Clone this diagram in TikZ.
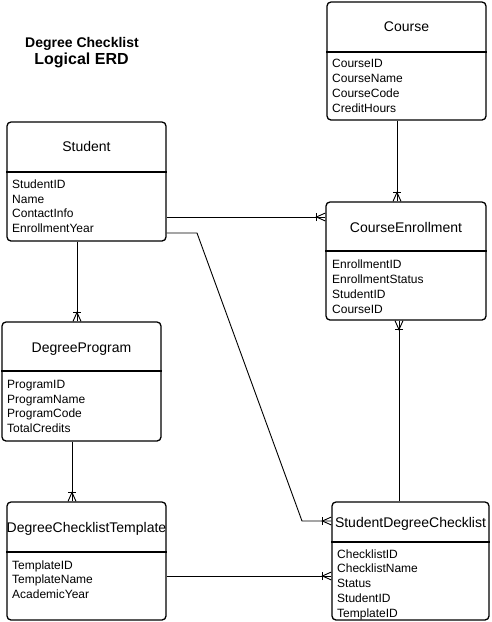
\documentclass[tikz,border=0pt]{standalone}
\usepackage{fontspec}
\setmainfont{Liberation Sans}
\usetikzlibrary{calc}

\tikzset{
  entity/.style={draw, line width=1.3pt, rounded corners=4pt, inner sep=0pt},
  divider/.style={line width=1.3pt},
  header/.style={anchor=base, inner sep=0pt, font=\fontsize{14}{16}\selectfont},
  fields/.style={anchor=base west, inner sep=0pt, align=left, font=\fontsize{12}{14.7}\selectfont},
  rel/.style={line width=0.9pt},
  crowfoot/.pic={
    \draw[rel] (0,-4) -- (9,0) -- (0,4);
    \draw[rel] (9,-4) -- (9,4);
  }
}

\begin{document}
\begin{tikzpicture}[x=1pt,y=-1pt]
  \useasboundingbox (0,0) rectangle (492,622);

  \node[anchor=base, inner sep=0pt, font=\bfseries\fontsize{14}{16}\selectfont] (heading) at (82,47) {Degree Checklist};
  \node[anchor=base, inner sep=0pt, font=\bfseries\fontsize{16}{18}\selectfont] (subheading) at (81.5,64.5) {Logical ERD};

  % entities (fields placed by the baseline of their last line)
  \node[entity, minimum width=159pt, minimum height=118pt] (course) at (406.5,61) {};
  \draw[divider] (course.west |- 0,52) -- (course.east |- 0,52);
  \node[header] (coursetitle) at (406.5,31) {Course};
  \node[fields] (coursefields) at (332,112) {CourseID\\CourseName\\CourseCode\\CreditHours};

  \node[entity, minimum width=159pt, minimum height=119pt] (student) at (86.5,181.5) {};
  \draw[divider] (student.west |- 0,172) -- (student.east |- 0,172);
  \node[header] (studenttitle) at (86.5,151) {Student};
  \node[fields] (studentfields) at (12,232.5) {StudentID\\Name\\ContactInfo\\EnrollmentYear};

  \node[entity, minimum width=160pt, minimum height=118pt] (enroll) at (406,261) {};
  \draw[divider] (enroll.west |- 0,251) -- (enroll.east |- 0,251);
  \node[header] (enrolltitle) at (406,232) {CourseEnrollment};
  \node[fields] (enrollfields) at (332,313) {EnrollmentID\\EnrollmentStatus\\StudentID\\CourseID};

  \node[entity, minimum width=159pt, minimum height=119pt] (program) at (81.5,381.5) {};
  \draw[divider] (program.west |- 0,371) -- (program.east |- 0,371);
  \node[header] (programtitle) at (81.5,352) {DegreeProgram};
  \node[fields] (programfields) at (7,432.5) {ProgramID\\ProgramName\\ProgramCode\\TotalCredits};

  \node[entity, minimum width=159pt, minimum height=118pt] (template) at (86.5,561) {};
  \draw[divider] (template.west |- 0,552) -- (template.east |- 0,552);
  \node[header] (templatetitle) at (86.5,532) {DegreeChecklistTemplate};
  \node[fields] (templatefields) at (12,598.5) {TemplateID\\TemplateName\\AcademicYear};

  \node[entity, minimum width=157pt, minimum height=118pt] (checklist) at (410.5,561) {};
  \draw[divider] (checklist.west |- 0,542) -- (checklist.east |- 0,542);
  \node[header] (checklisttitle) at (410.5,527) {StudentDegreeChecklist};
  \node[fields] (checklistfields) at (337,617) {ChecklistID\\ChecklistName\\Status\\StudentID\\TemplateID};

  % relationships
  \draw[rel] (course.south -| 397,0) -- (enroll.north -| 397,0);
  \pic[rotate=90] at (enroll.north -| 397,0) {crowfoot};

  \draw[rel] (enroll.south -| 399,0) -- (checklist.north -| 399,0);
  \pic[rotate=-90] at (enroll.south -| 399,0) {crowfoot};

  \draw[rel] (student.east |- 0,217) -- (enroll.west |- 0,217);
  \pic[rotate=180] at (enroll.west |- 0,217) {crowfoot};

  \draw[rel] (student.east |- 0,233) -- (197,233) -- (302,521) -- (checklist.west |- 0,521);
  \pic[rotate=180] at (checklist.west |- 0,521) {crowfoot};

  \draw[rel] (student.south -| 77,0) -- (program.north -| 77,0);
  \pic[rotate=90] at (program.north -| 77,0) {crowfoot};

  \draw[rel] (program.south -| 72,0) -- (template.north -| 72,0);
  \pic[rotate=90] at (template.north -| 72,0) {crowfoot};

  \draw[rel] (template.east |- 0,576) -- (checklist.west |- 0,576);
  \pic[rotate=180] at (checklist.west |- 0,576) {crowfoot};
\end{tikzpicture}
\end{document}
